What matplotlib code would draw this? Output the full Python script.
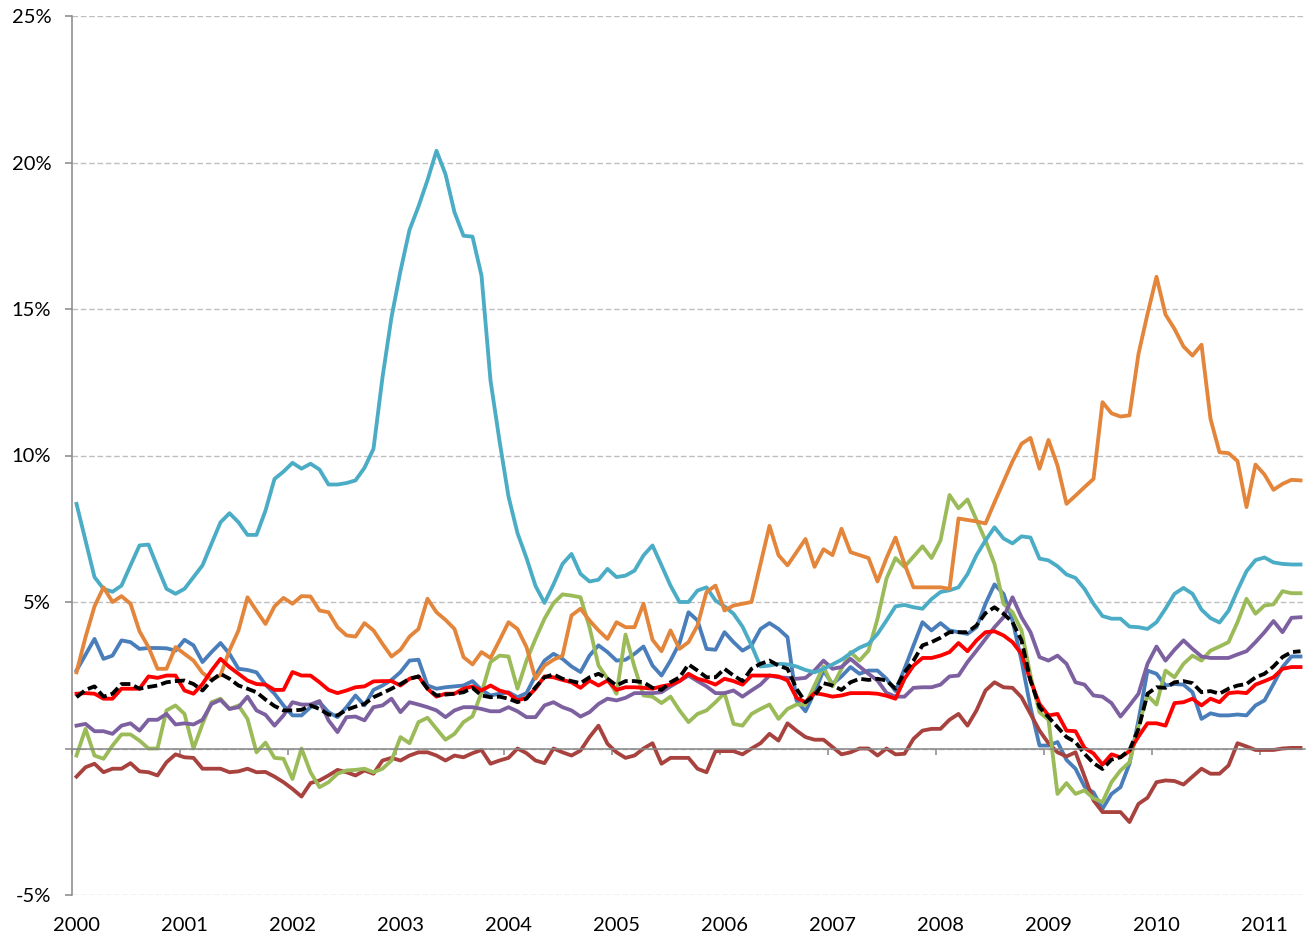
import matplotlib

matplotlib.use("Agg")

import matplotlib.pyplot as plt
import numpy as np

plt.rcParams["font.family"] = ["Lato", "DejaVu Sans"]

years = list(range(2000, 2012))

# monthly values in %, Jan 2000 .. May 2011
s_blue = [
    2.66, 3.2, 3.74, 3.06, 3.17, 3.69, 3.63, 3.4, 3.43, 3.43, 3.42, 3.34,
    3.71, 3.52, 2.95, 3.29, 3.6, 3.23, 2.72, 2.68, 2.6, 2.18, 1.87, 1.47,
    1.13, 1.13, 1.41, 1.58, 1.24, 1.07, 1.41, 1.81, 1.47, 2.0, 2.15, 2.34,
    2.61, 3.0, 3.03, 2.15, 2.04, 2.09, 2.12, 2.15, 2.3, 2.0, 1.81, 1.87,
    1.92, 1.75, 1.89, 2.49, 3.0, 3.23, 3.06, 2.8, 2.61, 3.17, 3.52, 3.29,
    3.0, 3.03, 3.23, 3.48, 2.83, 2.49, 3.0, 3.6, 4.65, 4.37, 3.4, 3.37,
    3.97, 3.63, 3.34, 3.52, 4.08, 4.28, 4.08, 3.8, 1.64, 1.27, 1.92, 2.66,
    2.2, 2.46, 2.78, 2.55, 2.66, 2.66, 2.38, 1.96, 2.72, 3.52, 4.31, 4.03,
    4.28, 4.03, 3.97, 3.91, 4.14, 4.94, 5.6, 5.28, 4.37, 3.0, 1.41, 0.1,
    0.1, 0.22, -0.39, -0.69, -1.3, -1.5, -2.06, -1.55, -1.32, -0.52, 0.96, 2.66,
    2.55, 2.15, 2.2, 2.18, 1.92, 1.01, 1.2, 1.13, 1.13, 1.16, 1.13, 1.47,
    1.64, 2.2, 2.78, 3.14, 3.14,
]
s_red = [
    1.87, 1.89, 1.87, 1.7, 1.7, 2.04, 2.04, 2.04, 2.46, 2.41, 2.49, 2.49,
    1.98, 1.87, 2.2, 2.66, 3.06, 2.78, 2.55, 2.32, 2.2, 2.18, 2.0, 2.0,
    2.61, 2.49, 2.49, 2.26, 2.0, 1.89, 1.98, 2.09, 2.12, 2.29, 2.3, 2.3,
    2.15, 2.38, 2.46, 2.04, 1.77, 1.87, 1.87, 2.04, 2.12, 1.98, 2.15, 1.98,
    1.89, 1.64, 1.73, 2.04, 2.46, 2.43, 2.34, 2.26, 2.07, 2.32, 2.15, 2.32,
    2.0, 2.09, 2.09, 2.07, 2.04, 2.12, 2.18, 2.3, 2.55, 2.38, 2.3, 2.18,
    2.38, 2.3, 2.18, 2.49, 2.49, 2.49, 2.46, 2.32, 1.73, 1.58, 1.89, 1.84,
    1.77, 1.81, 1.89, 1.89, 1.89, 1.87, 1.8, 1.7, 2.38, 2.83, 3.09, 3.09,
    3.17, 3.29, 3.6, 3.32, 3.69, 3.97, 4.0, 3.86, 3.63, 3.23, 2.32, 1.52,
    1.13, 1.18, 0.61, 0.59, 0.02, -0.17, -0.55, -0.2, -0.3, -0.09, 0.41, 0.86,
    0.86, 0.78, 1.55, 1.58, 1.7, 1.47, 1.7, 1.58, 1.89, 1.92, 1.89, 2.18,
    2.3, 2.43, 2.72, 2.78, 2.78,
]
s_black = [
    1.75, 2.0, 2.12, 1.77, 1.87, 2.2, 2.2, 2.04, 2.1, 2.15, 2.26, 2.3,
    2.32, 2.2, 1.98, 2.32, 2.55, 2.38, 2.15, 2.04, 1.92, 1.67, 1.45, 1.3,
    1.3, 1.32, 1.47, 1.35, 1.16, 1.13, 1.32, 1.43, 1.52, 1.75, 1.89, 2.04,
    2.2, 2.38, 2.46, 2.04, 1.81, 1.84, 1.87, 1.92, 2.07, 1.81, 1.75, 1.77,
    1.7, 1.58, 1.7, 2.09, 2.43, 2.53, 2.38, 2.3, 2.23, 2.43, 2.55, 2.38,
    2.15, 2.3, 2.3, 2.26, 2.07, 2.0, 2.26, 2.43, 2.87, 2.66, 2.43, 2.43,
    2.72, 2.49, 2.3, 2.72, 2.89, 3.0, 2.83, 2.72, 2.04, 1.58, 1.81, 2.23,
    2.15, 2.0, 2.26, 2.38, 2.34, 2.38, 2.32, 2.04, 2.6, 3.0, 3.52, 3.63,
    3.78, 3.97, 3.97, 3.97, 4.2, 4.62, 4.82, 4.6, 4.31, 3.69, 2.32, 1.41,
    1.07, 0.73, 0.39, 0.22, -0.18, -0.5, -0.7, -0.38, -0.3, -0.05, 0.67, 1.87,
    2.09, 2.07, 2.26, 2.3, 2.23, 1.92, 1.96, 1.87, 2.04, 2.15, 2.2, 2.43,
    2.55, 2.8, 3.12, 3.29, 3.32,
]
s_purple = [
    0.78, 0.84, 0.59, 0.59, 0.5, 0.78, 0.86, 0.61, 0.98, 0.98, 1.18, 0.82,
    0.86, 0.82, 0.98, 1.52, 1.66, 1.35, 1.41, 1.77, 1.3, 1.15, 0.78, 1.13,
    1.58, 1.5, 1.5, 1.62, 0.96, 0.56, 1.07, 1.09, 0.96, 1.41, 1.47, 1.7,
    1.24, 1.58, 1.5, 1.41, 1.3, 1.07, 1.3, 1.41, 1.41, 1.35, 1.27, 1.27,
    1.41, 1.27, 1.07, 1.07, 1.47, 1.58, 1.41, 1.3, 1.09, 1.24, 1.52, 1.7,
    1.64, 1.73, 1.89, 1.89, 1.89, 1.92, 2.12, 2.3, 2.49, 2.3, 2.12, 1.89,
    1.89, 1.98, 1.77, 1.98, 2.18, 2.49, 2.43, 2.41, 2.38, 2.41, 2.66, 3.0,
    2.72, 2.78, 3.06, 2.8, 2.55, 2.32, 1.9, 1.77, 1.77, 2.07, 2.09, 2.09,
    2.18, 2.46, 2.49, 2.95, 3.34, 3.74, 4.14, 4.48, 5.16, 4.48, 3.97, 3.12,
    3.0, 3.17, 2.89, 2.26, 2.18, 1.81, 1.77, 1.55, 1.09, 1.47, 1.87, 2.89,
    3.48, 3.0, 3.37, 3.69, 3.4, 3.14, 3.09, 3.09, 3.09, 3.21, 3.32, 3.63,
    3.97, 4.35, 3.97, 4.46, 4.48,
]
s_green = [
    -0.24, 0.67, -0.24, -0.35, 0.1, 0.48, 0.48, 0.27, 0.0, 0.0, 1.3, 1.47,
    1.18, 0.0, 0.84, 1.58, 1.7, 1.35, 1.47, 1.01, -0.13, 0.2, -0.32, -0.35,
    -1.04, 0.0, -0.81, -1.32, -1.15, -0.86, -0.75, -0.73, -0.69, -0.81, -0.69, -0.41,
    0.39, 0.18, 0.9, 1.05, 0.67, 0.3, 0.5, 0.9, 1.1, 1.9, 2.95, 3.17,
    3.14, 2.04, 3.0, 3.74, 4.43, 4.96, 5.26, 5.22, 5.16, 4.14, 2.83, 2.38,
    1.87, 3.89, 2.78, 1.81, 1.77, 1.55, 1.77, 1.3, 0.9, 1.18, 1.3, 1.58,
    1.89, 0.84, 0.78, 1.18, 1.35, 1.5, 1.01, 1.35, 1.5, 1.5, 2.15, 2.8,
    2.12, 2.72, 3.29, 3.0, 3.34, 4.43, 5.8, 6.5, 6.2, 6.55, 6.9, 6.5,
    7.1, 8.65, 8.2, 8.5, 7.8, 7.1, 6.3, 4.94, 4.65, 4.03, 2.49, 1.24,
    0.98, -1.55, -1.18, -1.55, -1.43, -1.7, -1.83, -1.15, -0.75, -0.47, 0.78, 1.81,
    1.5, 2.66, 2.43, 2.89, 3.17, 3.0, 3.34, 3.48, 3.63, 4.31, 5.11, 4.6,
    4.88, 4.92, 5.37, 5.3, 5.3,
]
s_maroon = [
    -0.96, -0.64, -0.52, -0.81, -0.69, -0.69, -0.5, -0.78, -0.81, -0.92, -0.47, -0.2,
    -0.3, -0.32, -0.69, -0.69, -0.69, -0.81, -0.78, -0.69, -0.81, -0.8, -0.96, -1.15,
    -1.38, -1.64, -1.18, -1.09, -0.92, -0.73, -0.81, -0.92, -0.75, -0.86, -0.41, -0.32,
    -0.41, -0.24, -0.13, -0.13, -0.24, -0.41, -0.24, -0.3, -0.16, -0.05, -0.52, -0.41,
    -0.32, 0.0, -0.16, -0.41, -0.5, 0.0, -0.13, -0.24, -0.07, 0.39, 0.78, 0.16,
    -0.13, -0.32, -0.24, 0.0, 0.18, -0.52, -0.32, -0.32, -0.32, -0.69, -0.81, -0.09,
    -0.09, -0.09, -0.2, 0.0, 0.18, 0.5, 0.27, 0.86, 0.61, 0.39, 0.3, 0.3,
    0.05, -0.2, -0.13, 0.0, 0.0, -0.24, 0.0, -0.2, -0.18, 0.33, 0.61, 0.67,
    0.67, 0.98, 1.18, 0.78, 1.3, 1.98, 2.26, 2.09, 2.07, 1.75, 1.18, 0.61,
    0.18, -0.13, -0.27, -0.13, -0.95, -1.77, -2.17, -2.17, -2.17, -2.51, -1.89, -1.68,
    -1.15, -1.09, -1.11, -1.23, -0.96, -0.69, -0.86, -0.86, -0.58, 0.18, 0.07, -0.05,
    -0.05, -0.05, 0.0, 0.02, 0.02,
]
s_cyan = [
    8.35, 7.1, 5.85, 5.45, 5.35, 5.56, 6.25, 6.93, 6.96, 6.19, 5.45, 5.28,
    5.45, 5.85, 6.25, 6.99, 7.72, 8.03, 7.72, 7.29, 7.29, 8.12, 9.2, 9.45,
    9.75, 9.55, 9.72, 9.52, 9.01, 9.01, 9.06, 9.15, 9.58, 10.23, 12.67, 14.72,
    16.3, 17.7, 18.5, 19.4, 20.4, 19.6, 18.3, 17.5, 17.47, 16.14, 12.56, 10.5,
    8.6, 7.35, 6.5, 5.55, 4.97, 5.6, 6.3, 6.64, 5.96, 5.7, 5.76, 6.13,
    5.85, 5.9, 6.07, 6.59, 6.93, 6.25, 5.56, 5.0, 5.0, 5.39, 5.5, 5.05,
    4.85, 4.6, 4.16, 3.52, 2.8, 2.83, 2.89, 2.87, 2.8, 2.68, 2.6, 2.72,
    2.87, 3.03, 3.25, 3.44, 3.57, 3.91, 4.37, 4.85, 4.9, 4.82, 4.77, 5.1,
    5.34, 5.4, 5.5, 5.95, 6.6, 7.1, 7.55, 7.17, 7.0, 7.24, 7.2, 6.48,
    6.42, 6.22, 5.94, 5.82, 5.45, 4.94, 4.52, 4.43, 4.43, 4.16, 4.14, 4.08,
    4.31, 4.77, 5.28, 5.48, 5.28, 4.74, 4.45, 4.3, 4.7, 5.4, 6.05, 6.43,
    6.52, 6.35, 6.3, 6.28, 6.28,
]
s_orange = [
    2.6, 3.8, 4.85, 5.5, 5.0, 5.2, 4.94, 4.0, 3.46, 2.72, 2.72, 3.46,
    3.23, 3.0, 2.58, 2.35, 2.5, 3.35, 4.03, 5.16, 4.7, 4.25, 4.85, 5.14,
    4.94, 5.2, 5.19, 4.71, 4.65, 4.14, 3.86, 3.82, 4.28, 4.03, 3.57, 3.14,
    3.37, 3.82, 4.08, 5.11, 4.65, 4.39, 4.08, 3.12, 2.87, 3.29, 3.09, 3.69,
    4.31, 4.08, 3.46, 2.38, 2.83, 3.03, 3.17, 4.54, 4.77, 4.37, 4.03, 3.74,
    4.31, 4.14, 4.14, 4.94, 3.71, 3.32, 4.03, 3.4, 3.63, 4.2, 5.34, 5.56,
    4.71, 4.88, 4.94, 5.0, 6.3, 7.6, 6.6, 6.25, 6.7, 7.15, 6.2, 6.8,
    6.6, 7.5, 6.7, 6.6, 6.5, 5.7, 6.5, 7.2, 6.3, 5.5, 5.5, 5.5,
    5.5, 5.45, 7.85, 7.8, 7.75, 7.68, 8.4, 9.1, 9.8, 10.4, 10.6, 9.55,
    10.53, 9.66, 8.35, 8.63, 8.92, 9.2, 11.82, 11.44, 11.33, 11.37, 13.47, 14.83,
    16.1, 14.81, 14.32, 13.72, 13.41, 13.78, 11.25, 10.11, 10.08, 9.81, 8.24, 9.69,
    9.35, 8.83, 9.03, 9.17, 9.15,
]

months = np.arange(len(s_blue))

fig = plt.figure(figsize=(13.09, 9.40), dpi=100)
ax = fig.add_axes([72 / 1309, 45 / 940, 1233 / 1309, 879 / 940])

# drawing order as in the source chart, later series on top
series = [
    (s_blue, "#4A7EBB"),
    (s_maroon, "#A8423F"),
    (s_green, "#9BBB59"),
    (s_purple, "#7D60A0"),
    (s_cyan, "#4BACC6"),
    (s_orange, "#E3853A"),
    (s_red, "#FF0000"),
]
for values, color in series:
    ax.plot(months, values, color=color, lw=2.75, solid_joinstyle="round")
ax.plot(months, s_black, color="black", lw=2.75, dashes=(2.6, 1.1))

ax.set_xlim(-0.5, len(months) - 0.5)
ax.set_ylim(-5, 25)

yticks = list(range(-5, 30, 5))
ax.set_yticks(yticks)
ax.set_yticklabels(["" if v == 0 else f"{v}%" for v in yticks])
ax.yaxis.grid(True, color="#BFBFBF", lw=1.0, linestyle=(0, (4, 2)))
ax.set_axisbelow(True)

ax.set_xticks([12 * k for k in range(len(years))])
ax.set_xticklabels([str(y) for y in years])
ax.set_xticks([12 * k - 0.5 for k in range(len(years))], minor=True)

for side in ("top", "right"):
    ax.spines[side].set_visible(False)
ax.spines["bottom"].set_position(("data", 0))
for side in ("left", "bottom"):
    ax.spines[side].set_color("#868686")
    ax.spines[side].set_linewidth(1.1)

ax.tick_params(axis="y", direction="out", length=5, width=1.1, color="#868686",
               pad=10, labelsize=14.5)
ax.tick_params(axis="x", which="major", length=0, pad=121, labelsize=14.5)
ax.tick_params(axis="x", which="minor", direction="out", length=4, width=1.1,
               color="#868686")

fig.savefig("out.png", dpi=100)
